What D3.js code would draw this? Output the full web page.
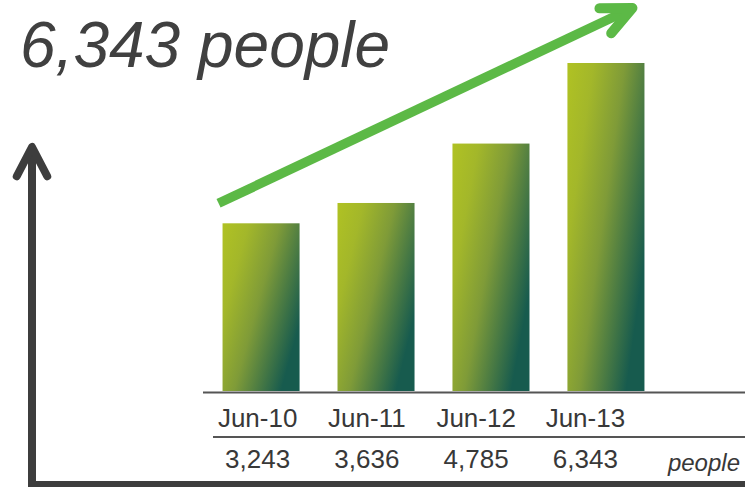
<!DOCTYPE html>
<html>
<head>
<meta charset="utf-8">
<script src="https://cdn.jsdelivr.net/npm/d3@7"></script>
<style>
  body { margin: 0; background: #fff; }
  text { font-family: "Liberation Sans", Arial, sans-serif; }
</style>
</head>
<body>
<div id="chart"></div>
<script>
// data
var periods = ["Jun-10", "Jun-11", "Jun-12", "Jun-13"];
var people = [3243, 3636, 4785, 6343];
var unitLabel = "people";
var headline = "6,343 people";

var W = 751, H = 487;

var svg = d3.select("#chart")
  .append("svg")
    .attr("width", W)
    .attr("height", H);

// gradient for the bars, yellow-green top left to dark green bottom right
var defs = svg.append("defs");
var grad = defs.append("linearGradient")
    .attr("id", "barGrad")
    .attr("x1", 0).attr("y1", 0)
    .attr("x2", 1).attr("y2", 0.6);
grad.append("stop").attr("offset", "0%").attr("stop-color", "#b0c223");
grad.append("stop").attr("offset", "25%").attr("stop-color", "#a3b72a");
grad.append("stop").attr("offset", "55%").attr("stop-color", "#7f9b38");
grad.append("stop").attr("offset", "100%").attr("stop-color", "#175b4e");

// scales
var x = d3.scaleBand()
    .domain(periods)
    .range([203, 664])
    .paddingInner(0.33)
    .paddingOuter(0.17);

// table columns are a bit narrower than the bar slots
var col = d3.scaleBand()
    .domain(periods)
    .range([203, 640]);

var y = d3.scaleLinear()
    .domain([0, d3.max(people)])
    .range([391, 63]);

// bars
svg.selectAll("rect.bar")
  .data(periods)
  .enter()
  .append("rect")
    .attr("class", "bar")
    .attr("x", function(d) { return x(d); })
    .attr("y", function(d, i) { return y(people[i]); })
    .attr("width", x.bandwidth())
    .attr("height", function(d, i) { return y(0) - y(people[i]); })
    .style("fill", "url(#barGrad)");

// table lines
svg.append("line")
    .attr("x1", 203).attr("x2", 745)
    .attr("y1", y(0) + 1.5).attr("y2", y(0) + 1.5)
    .attr("stroke", "#555").attr("stroke-width", 2.2);
svg.append("line")
    .attr("x1", 213).attr("x2", 745)
    .attr("y1", 437).attr("y2", 437)
    .attr("stroke", "#555").attr("stroke-width", 2.2);

// category labels
svg.selectAll("text.cat")
  .data(periods)
  .enter()
  .append("text")
    .attr("class", "cat")
    .attr("x", function(d) { return col(d) + col.bandwidth() / 2; })
    .attr("y", 427)
    .attr("text-anchor", "middle")
    .style("font-size", "26px")
    .style("fill", "#383838")
    .text(function(d) { return d; });

// value row
svg.selectAll("text.val")
  .data(periods)
  .enter()
  .append("text")
    .attr("class", "val")
    .attr("x", function(d) { return col(d) + col.bandwidth() / 2; })
    .attr("y", 468)
    .attr("text-anchor", "middle")
    .style("font-size", "26px")
    .style("fill", "#383838")
    .text(function(d, i) { return d3.format(",")(people[i]); });

svg.append("text")
    .attr("x", 740)
    .attr("y", 471)
    .attr("text-anchor", "end")
    .style("font-size", "24px")
    .style("font-style", "italic")
    .style("fill", "#383838")
    .text(unitLabel);

// headline
svg.append("text")
    .attr("x", 20)
    .attr("y", 67)
    .style("font-size", "64px")
    .style("font-style", "italic")
    .style("fill", "#404040")
    .text(headline);

// helper for an open chevron arrow head
function arrowHead(tx, ty, angle, len, spread) {
  var p = d3.path();
  p.moveTo(tx + len * Math.cos(angle + Math.PI - spread), ty + len * Math.sin(angle + Math.PI - spread));
  p.lineTo(tx, ty);
  p.lineTo(tx + len * Math.cos(angle + Math.PI + spread), ty + len * Math.sin(angle + Math.PI + spread));
  return p.toString();
}

// green trend arrow, anchored on first and last bar
var sx = x(periods[0]) - 4, sy = y(people[0]) - 20;
var ex = x(periods[3]) + x.bandwidth() - 12, ey = y(people[3]) - 55;
var ang = Math.atan2(ey - sy, ex - sx);
svg.append("line")
    .attr("x1", sx).attr("y1", sy)
    .attr("x2", ex - 4 * Math.cos(ang)).attr("y2", ey - 4 * Math.sin(ang))
    .attr("stroke", "#5cb946").attr("stroke-width", 9.5);
svg.append("path")
    .attr("d", arrowHead(ex, ey, ang, 33, 0.43))
    .attr("fill", "none")
    .attr("stroke", "#5cb946").attr("stroke-width", 10)
    .attr("stroke-linecap", "round").attr("stroke-linejoin", "round");

// dark L-shaped axis
svg.append("path")
    .attr("d", "M32,150 L32,485 L745,485")
    .attr("fill", "none")
    .attr("stroke", "#3d3d3d").attr("stroke-width", 8)
    .attr("stroke-linejoin", "miter");
svg.append("path")
    .attr("d", arrowHead(32, 147, -Math.PI / 2, 33, 0.48))
    .attr("fill", "none")
    .attr("stroke", "#3d3d3d").attr("stroke-width", 8)
    .attr("stroke-linecap", "round").attr("stroke-linejoin", "round");
</script>
</body>
</html>
